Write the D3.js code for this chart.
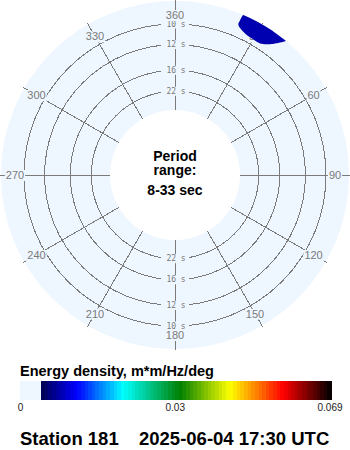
<!DOCTYPE html>
<html>
<head>
<meta charset="utf-8">
<script src="https://cdn.jsdelivr.net/npm/d3@7"></script>
<style>
  body { margin: 0; background: #fff; }
  svg { display: block; }
</style>
</head>
<body>
<span></span>
<script>
let width = 350;
let height = 450;
let centerX = 175;
let centerY = 175;
let discRadius = 174;

// compass directions of the spokes and their labels
let dirTicks = [0, 30, 60, 90, 120, 150, 180, 210, 240, 270, 300, 330];
let dirLabels = ["360", "30", "60", "90", "120", "150", "180", "210", "240", "270", "300", "330"];

// period rings (seconds)
let ringPeriods = [10, 12, 16, 22];
let ringLabels = ["10 s", "12 s", "16 s", "22 s"];
let periodRange = [33, 10];

// outline of the only energy patch (direction deg, period s)
let blobDir = [22.9, 22.8, 23.5, 27, 33, 40, 39.7, 38.4, 36.8, 33.9, 31.5, 29.3, 27.1, 24.7];
let blobPeriod = [9.12, 8.83, 8.3, 8.2, 8.2, 8.2, 8.4, 8.73, 9.07, 9.48, 9.58, 9.56, 9.51, 9.35];
let blobColor = "#0000b0";

// colour bar
let cbMax = 0.069;
let cbColors = ["#000050", "#0000ff", "#00ffff", "#008000", "#ffff00", "#ff0000", "#000000"];
let cbStops = [0, 0.124, 0.283, 0.48, 0.652, 0.834, 1];
let cbTicks = ["0", "0.03", "0.069"];

let centerLines = ["Period", "range:", "8-33 sec"];
let legendTitle = "Energy density, m*m/Hz/deg";
let station = "Station 181";
let stamp = "2025-06-04 17:30 UTC";

let discColor = "#eef6ff";
let gridColor = "#7a7a7a";

let svg = d3.select("span")
    .append("svg")
    .attr("width", width)
    .attr("height", height);

svg.append("rect").attr("width", width).attr("height", height).attr("fill", "#fff");

// radius grows with frequency
let r = d3.scaleLinear()
    .domain(periodRange.map(p => 1 / p))
    .range([65, 151]);
let ang = d3.scaleLinear().domain([0, 360]).range([0, 2 * Math.PI]);

let g = svg.append("g").attr("transform", "translate(" + centerX + "," + centerY + ")");

g.append("circle").attr("r", discRadius).attr("fill", discColor);
g.append("circle").attr("r", r(1 / periodRange[0])).attr("fill", "#fff");

// rings
g.selectAll(".ring")
    .data(ringPeriods)
    .enter().append("circle")
    .attr("r", d => r(1 / d))
    .attr("fill", "none")
    .attr("stroke", gridColor)
    .attr("shape-rendering", "crispEdges");

// spokes
g.selectAll(".spoke")
    .data(dirTicks)
    .enter().append("line")
    .attr("x1", d => Math.sin(ang(d)) * r(1 / periodRange[0]))
    .attr("y1", d => -Math.cos(ang(d)) * r(1 / periodRange[0]))
    .attr("x2", d => Math.sin(ang(d)) * 175)
    .attr("y2", d => -Math.cos(ang(d)) * 175)
    .attr("stroke", gridColor)
    .attr("shape-rendering", "crispEdges");

// ring labels, top and bottom
ringPeriods.forEach(function (p, i) {
    [-1, 1].forEach(function (s) {
        let y = s * r(1 / p);
        g.append("rect")
            .attr("x", -14).attr("y", y - 4.5)
            .attr("width", 28).attr("height", 9)
            .attr("fill", discColor);
        g.append("text")
            .attr("x", 1).attr("y", y)
            .attr("text-anchor", "middle")
            .attr("dominant-baseline", "central")
            .attr("font-family", "DejaVu Sans Mono")
            .attr("font-size", 8)
            .attr("fill", gridColor)
            .text(ringLabels[i]);
    });
});

// direction labels
dirTicks.forEach(function (d, i) {
    let x = Math.sin(ang(d)) * 160;
    let y = -Math.cos(ang(d)) * 160;
    let t = g.append("text")
        .attr("x", x).attr("y", y)
        .attr("text-anchor", "middle")
        .attr("dominant-baseline", "central")
        .attr("font-family", "Liberation Sans, Arial, sans-serif")
        .attr("font-size", 11)
        .attr("fill", gridColor)
        .text(dirLabels[i]);
    let b = t.node().getBBox();
    g.insert("rect", function () { return t.node(); })
        .attr("x", b.x - 1).attr("y", b.y + 1)
        .attr("width", b.width + 2).attr("height", b.height - 1)
        .attr("fill", discColor);
});

// energy patch
svg.append("clipPath").attr("id", "disc")
    .append("circle").attr("r", discRadius);

let blob = d3.lineRadial()
    .angle(d => ang(d[0]))
    .radius(d => r(1 / d[1]))
    .curve(d3.curveCardinalClosed);

g.append("path")
    .attr("d", blob(d3.zip(blobDir, blobPeriod)))
    .attr("fill", blobColor)
    .attr("clip-path", "url(#disc)");

// centre caption
let baseY = [160.5, 175, 195];
centerLines.forEach(function (s, i) {
    svg.append("text")
        .attr("x", centerX).attr("y", baseY[i])
        .attr("text-anchor", "middle")
        .attr("font-family", "Liberation Sans, Arial, sans-serif")
        .attr("font-weight", "bold")
        .attr("font-size", 14)
        .attr("fill", "#000")
        .text(s);
});

// colour bar
svg.append("text")
    .attr("x", 20).attr("y", 376)
    .attr("font-family", "Liberation Sans, Arial, sans-serif")
    .attr("font-weight", "bold")
    .attr("font-size", 14.5)
    .attr("fill", "#000")
    .text(legendTitle);

let cbX = d3.scaleLinear().domain([0, cbMax]).range([41, 331]);
let cbColor = d3.scaleLinear().domain(cbStops.map(s => s * cbMax)).range(cbColors).interpolate(d3.interpolateRgb);
let nBands = 80;
let bands = d3.range(nBands).map(i => i * cbMax / nBands);

svg.append("rect")
    .attr("x", 20).attr("y", 381)
    .attr("width", cbX(0) - 20).attr("height", 19)
    .attr("fill", discColor);

svg.selectAll(".band")
    .data(bands)
    .enter().append("rect")
    .attr("x", d => cbX(d))
    .attr("y", 381)
    .attr("width", cbX(cbMax / nBands) - cbX(0) + 0.5)
    .attr("height", 19)
    .attr("fill", d => cbColor(d + cbMax / nBands / 2))
    .attr("shape-rendering", "crispEdges");

let tickX = d3.scalePoint().domain(cbTicks).range([20.5, 330]);
svg.selectAll(".cbtick")
    .data(cbTicks)
    .enter().append("text")
    .attr("x", d => tickX(d))
    .attr("y", 411)
    .attr("text-anchor", "middle")
    .attr("font-family", "Liberation Sans, Arial, sans-serif")
    .attr("font-size", 10)
    .attr("fill", "#222")
    .text(d => d);

// footer
svg.append("text")
    .attr("x", 20).attr("y", 445)
    .attr("font-family", "Liberation Sans, Arial, sans-serif")
    .attr("font-weight", "bold")
    .attr("font-size", 18.5)
    .attr("fill", "#000")
    .text(station);
svg.append("text")
    .attr("x", 139).attr("y", 445)
    .attr("font-family", "Liberation Sans, Arial, sans-serif")
    .attr("font-weight", "bold")
    .attr("font-size", 18.5)
    .attr("fill", "#000")
    .text(stamp);
</script>
</body>
</html>
